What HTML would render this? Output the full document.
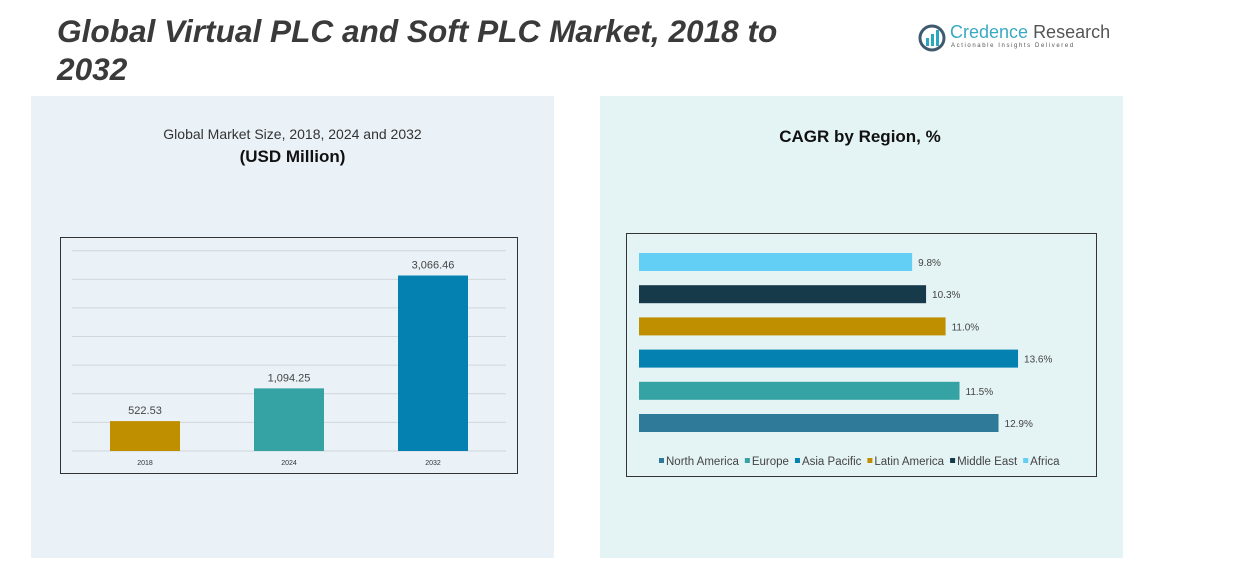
<!DOCTYPE html>
<html><head><meta charset="utf-8"><style>
body{margin:0;width:1233px;height:575px;background:#fff;position:relative;overflow:hidden;font-family:"Liberation Sans",sans-serif;}
.abs{position:absolute;}
</style></head><body>
<div class="abs" style="left:31px;top:96px;width:523px;height:462px;background:#eaf2f8;"></div>
<div class="abs" style="left:600px;top:96px;width:523px;height:462px;background:#e4f3f4;"></div>
<div class="abs" style="left:57px;top:12px;width:760px;font-size:31.6px;font-weight:bold;font-style:italic;color:#3a3a3a;line-height:38px;">Global Virtual PLC and Soft PLC Market, 2018 to 2032</div>
<div class="abs" style="left:918px;top:22px;width:200px;height:32px;white-space:nowrap;">
<svg width="28" height="28" style="position:absolute;left:0;top:2px"><circle cx="14" cy="14" r="12" fill="none" stroke="#3f5a6e" stroke-width="3"/><rect x="8" y="14" width="3" height="8" fill="#2aa7c0"/><rect x="13" y="10" width="3" height="12" fill="#2aa7c0"/><rect x="18" y="6" width="3" height="16" fill="#2aa7c0"/></svg>
<div style="position:absolute;left:32px;top:0;font-size:18px;color:#3aa9c2;white-space:nowrap;">Credence <span style="color:#555">Research</span></div>
<div style="position:absolute;left:33px;top:21px;font-size:6px;letter-spacing:1.6px;color:#555;white-space:nowrap;">Actionable Insights Delivered</div>
</div>
<div class="abs" style="left:130px;top:126px;width:325px;text-align:center;font-size:14px;color:#333;">Global Market Size, 2018, 2024 and 2032</div>
<div class="abs" style="left:130px;top:147px;width:325px;text-align:center;font-size:17px;font-weight:bold;color:#111;">(USD Million)</div>
<div class="abs" style="left:760px;top:127px;width:200px;text-align:center;font-size:17px;font-weight:bold;color:#111;">CAGR by Region, %</div>
<svg class="abs" style="left:0;top:0" width="1233" height="575" id="charts">
<rect x="60.5" y="237.5" width="457" height="236" fill="none" stroke="#333" stroke-width="1"/>
<rect x="626.5" y="233.5" width="470" height="243" fill="none" stroke="#333" stroke-width="1"/>
<g id="barg"></g><g id="hbarg"></g>
</svg>
<script>
const years=["2018","2024","2032"];
const sizes=[522.53,1094.25,3066.46];
const sizeLabels=["522.53","1,094.25","3,066.46"];
const barColors=["#c08f00","#35a3a3","#0481b1"];
const gridTicks=[0,500,1000,1500,2000,2500,3000,3500];
const regions=["North America","Europe","Asia Pacific","Latin America","Middle East","Africa"];
const cagr=[12.9,11.5,13.6,11.0,10.3,9.8];
const regionColors=["#307a99","#35a3a3","#0481b1","#c08f00","#173a4a","#63cff5"];
const NS="http://www.w3.org/2000/svg";
function mk(t,a,p){const e=document.createElementNS(NS,t);for(const k in a)e.setAttribute(k,a[k]);p.appendChild(e);return e;}
const g=document.getElementById('barg');
const y=v=>451-v*(200.3/3500);
const xc=i=>145+i*144;
gridTicks.forEach(t=>{const l=mk('line',{x1:72,x2:506,y1:y(t),y2:y(t),stroke:'#d0d6da','stroke-width':1},g);

});
years.forEach((yr,i)=>{
const r=mk('rect',{x:xc(i)-35,y:y(sizes[i]),width:70,height:451-y(sizes[i]),fill:barColors[i]},g);


const t=mk('text',{x:xc(i),y:y(sizes[i])-7,'text-anchor':'middle','font-size':11,fill:'#444'},g);t.textContent=sizeLabels[i];


const xl=mk('text',{x:xc(i),y:465,'text-anchor':'middle','font-size':7,fill:'#333'},g);xl.textContent=yr;


});
const h=document.getElementById('hbarg');
const xs=v=>639+v*27.87;
const yc=i=>423-i*32.2;
regions.forEach((rg,i)=>{
const r=mk('rect',{x:639,y:yc(i)-9,width:xs(cagr[i])-639,height:18,fill:regionColors[i]},h);


const t=mk('text',{x:xs(cagr[i])+6,y:yc(i)+4,'font-size':10,fill:'#444'},h);t.textContent=cagr[i].toFixed(1)+'%';


});
let lx=659;
regions.forEach((rg,i)=>{
const s=mk('rect',{x:lx,y:458,width:5,height:5,fill:regionColors[i]},h);


const t=mk('text',{x:lx+7,y:465,'font-size':11.5,fill:'#444'},h);t.textContent=rg;


lx+=7+t.getComputedTextLength()+6;
});
</script>
</body></html>
